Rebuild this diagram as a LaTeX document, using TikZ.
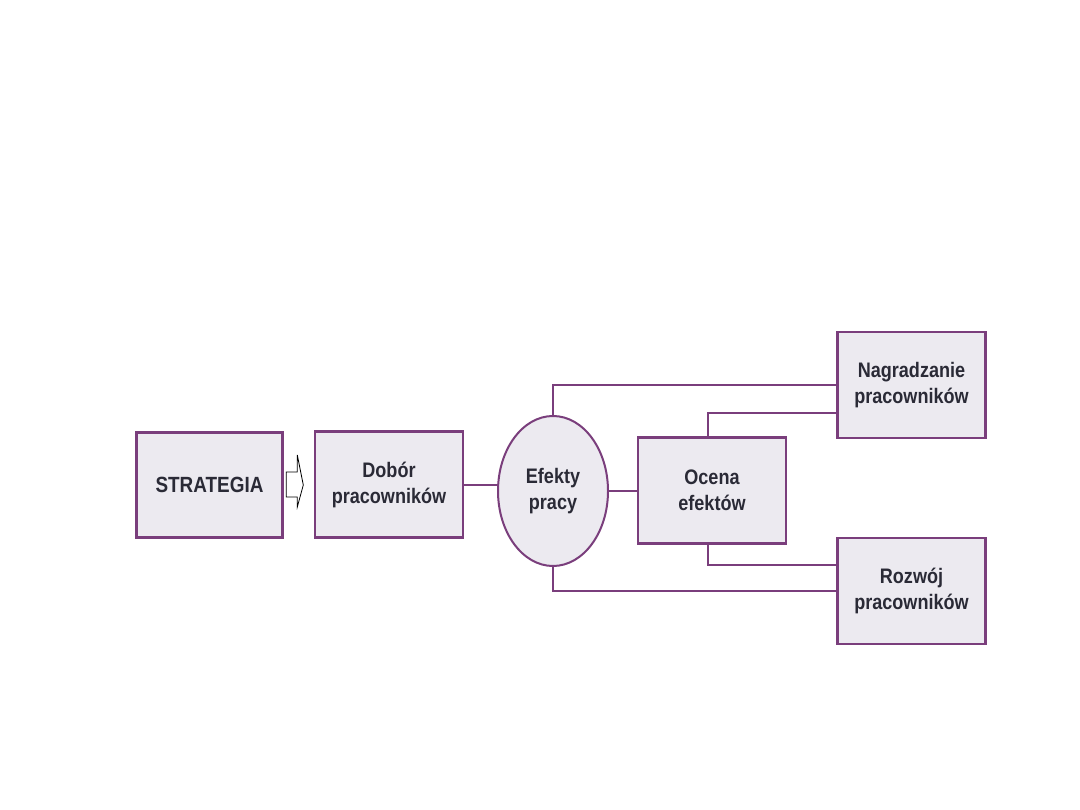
\documentclass[tikz,border=0pt]{standalone}
\usepackage{fontspec}
\setmainfont{Liberation Sans}[FakeStretch=0.86]
\usetikzlibrary{calc,shapes.geometric}
\definecolor{bord}{HTML}{7A3E7C}
\definecolor{boxfill}{HTML}{ECEAF0}
\definecolor{txt}{HTML}{2A2A36}
\tikzset{
  box/.style={draw=bord, fill=boxfill, line width=2.4pt, inner sep=0pt,
    minimum width=148pt, minimum height=106pt, align=center, text=txt,
    font=\bfseries\fontsize{21}{26}\selectfont},
  bigbox/.style={box, line width=3.6pt, font=\bfseries\fontsize{22}{26}\selectfont},
  ellbox/.style={box, ellipse, minimum width=110pt, minimum height=150pt, line width=2pt},
  link/.style={draw=bord, line width=2pt},
}
\begin{document}
\begin{tikzpicture}[x=1pt,y=-1pt]
\useasboundingbox (0,0) rectangle (1080,810);
\fill[white] (0,0) rectangle (1080,810);
\node[bigbox, minimum width=146pt, minimum height=105pt] (strat) at (209.5,485) {STRATEGIA};
\node[box] (dobor) at (389,484.5) {Dobór\\pracowników};
\node[ellbox] (eff) at (553,491) {Efekty\\pracy};
\node[box] (ocena) at (712,490.5) {Ocena\\efektów};
\node[box] (nagr) at (911.5,385) {Nagradzanie\\pracowników};
\node[box] (rozw) at (911.5,591) {Rozwój\\pracowników};
% hollow arrow
\draw[black, line width=0.8pt, fill=white]
  ($(strat.east)+(2,-13)$) -- ($(strat.east)+(13,-13)$) -- ($(strat.east)+(13,-30)$)
  -- ($(strat.east)+(19,0)$) -- ($(strat.east)+(13,22)$) -- ($(strat.east)+(13,12)$)
  -- ($(strat.east)+(2,12)$) -- cycle;
% connectors
\draw[link] (dobor.east) -- (dobor.east -| eff.west);
\draw[link] (eff.east) -- (eff.east -| ocena.west);
\draw[link] (eff.north) |- (nagr.west);
\draw[link] ([xshift=-4pt]ocena.north) |- ([yshift=-28pt]nagr.west);
\draw[link] ([xshift=-4pt]ocena.south) |- ([yshift=26pt]rozw.west);
\draw[link] (eff.south) |- (rozw.west);
\end{tikzpicture}
\end{document}
